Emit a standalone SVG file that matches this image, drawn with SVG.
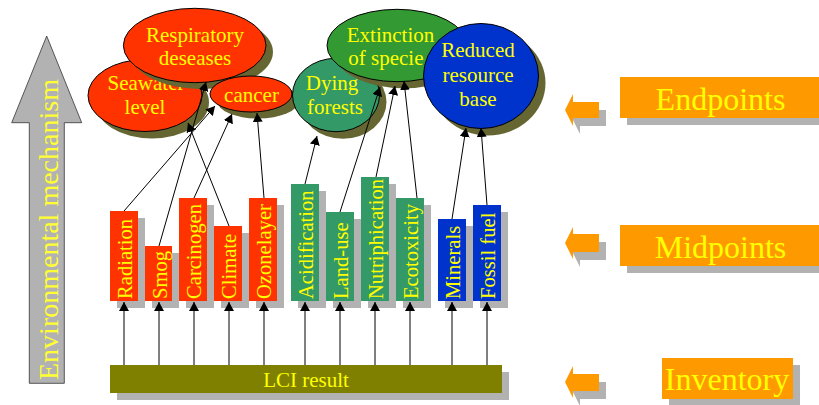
<svg xmlns="http://www.w3.org/2000/svg" width="819" height="405" viewBox="0 0 819 405" font-family="'Liberation Serif', 'Times New Roman', 'DejaVu Serif', serif">
<defs>
<style>
text{font-family:'Liberation Serif','Times New Roman','DejaVu Serif',serif;fill:#ffff00}
.t21{font-size:21px;text-anchor:middle}
.bt{font-size:20.6px}
.sh{fill:#b2b2b2}
.esh{fill:#666633}
.red{fill:#ff3300}
.grn{fill:#339966}
.grn2{fill:#339933}
.blu{fill:#0033cc}
.ell{stroke:#000;stroke-width:1}
.org{fill:#ff9900}
.lab{font-size:32px;text-anchor:middle}
.con{stroke:#000;stroke-width:1;fill:none;marker-end:url(#ah)}
</style>
<marker id="ah" markerUnits="userSpaceOnUse" viewBox="0 0 9 10" markerWidth="9" markerHeight="10" refX="9" refY="5" orient="auto">
<path d="M0,0 L9,5 L0,10 z" fill="#000"/>
</marker>
</defs>
<rect width="819" height="405" fill="#fff"/>

<g id="env-arrow">
<polygon points="46.7,36 81.7,122.7 64.3,122.7 64.3,383.3 29.3,383.3 29.3,122.7 11.7,122.7" fill="#b2b2b2" stroke="#333" stroke-width="0.8"/>
<text transform="translate(58,380) rotate(-90)" style="font-size:28px;fill:#ffff33">Environmental mechanism</text>
</g>

<g id="seawater">
<ellipse class="esh" cx="152" cy="102.5" rx="57" ry="36"/>
<ellipse class="red ell" cx="145" cy="95.5" rx="57" ry="36"/>
<text class="t21" x="146" y="90">Seawater</text>
<text class="t21" x="145" y="113.5">level</text>
</g>
<g id="respiratory">
<ellipse class="esh" cx="201.7" cy="52" rx="71.3" ry="37.2"/>
<ellipse class="red ell" cx="194.7" cy="45.5" rx="71.3" ry="37.2"/>
<text class="t21" x="195" y="41.5">Respiratory</text>
<text class="t21" x="195" y="65">deseases</text>
</g>
<g id="cancer">
<ellipse class="esh" cx="258" cy="100.5" rx="41" ry="18"/>
<ellipse class="red ell" cx="251" cy="94" rx="41" ry="18"/>
<text class="t21" x="251.5" y="102">cancer</text>
</g>
<g id="dying">
<ellipse class="esh" cx="343" cy="102" rx="43.5" ry="36.7"/>
<ellipse class="grn ell" cx="336" cy="95" rx="43.5" ry="36.7"/>
<text class="t21" x="332" y="90">Dying</text>
<text class="t21" x="335" y="113.5">forests</text>
</g>
<g id="extinction">
<ellipse class="esh" cx="404" cy="52" rx="70" ry="36.2"/>
<ellipse class="grn2 ell" cx="397" cy="45.5" rx="70" ry="36.2"/>
<text class="t21" x="390.5" y="41.7">Extinction</text>
<text x="348.3" y="65" style="font-size:21px">of specie</text>
</g>
<g id="reduced">
<ellipse class="esh" cx="488" cy="83" rx="57.5" ry="52.5"/>
<ellipse class="blu ell" cx="481" cy="76" rx="57.5" ry="52.5"/>
<text class="t21" x="478" y="57">Reduced</text>
<text class="t21" x="478" y="82">resource</text>
<text class="t21" x="478" y="106">base</text>
</g>

<g id="radiation">
<rect class="sh" x="117" y="218" width="28" height="90"/>
<rect class="red" x="110" y="211" width="28" height="90"/>
<text class="bt" transform="translate(132,299) rotate(-90)">Radiation</text>
</g>
<g id="smog">
<rect class="sh" x="152" y="253" width="27" height="55"/>
<rect class="red" x="145" y="246" width="27" height="55"/>
<text class="bt" transform="translate(167,299) rotate(-90)">Smog</text>
</g>
<g id="carcinogen">
<rect class="sh" x="186" y="205" width="28" height="103"/>
<rect class="red" x="179" y="198" width="28" height="103"/>
<text class="bt" transform="translate(201,299) rotate(-90)">Carcinogen</text>
</g>
<g id="climate">
<rect class="sh" x="221" y="233" width="28" height="75"/>
<rect class="red" x="214" y="226" width="28" height="75"/>
<text class="bt" transform="translate(236,299) rotate(-90)">Climate</text>
</g>
<g id="ozonelayer">
<rect class="sh" x="256" y="205" width="28" height="103"/>
<rect class="red" x="249" y="198" width="28" height="103"/>
<text class="bt" transform="translate(271,299) rotate(-90)">Ozonelayer</text>
</g>
<g id="acidification">
<rect class="sh" x="298" y="191" width="28" height="117"/>
<rect class="grn" x="291" y="184" width="28" height="117"/>
<text class="bt" transform="translate(313,299) rotate(-90)">Acidification</text>
</g>
<g id="landuse">
<rect class="sh" x="333" y="219" width="28" height="89"/>
<rect class="grn" x="326" y="212" width="28" height="89"/>
<text class="bt" transform="translate(348,299) rotate(-90)">Land-use</text>
</g>
<g id="nutriphication">
<rect class="sh" x="368" y="184" width="28" height="124"/>
<rect class="grn" x="361" y="177" width="28" height="124"/>
<text class="bt" transform="translate(383,299) rotate(-90)">Nutriphication</text>
</g>
<g id="ecotoxicity">
<rect class="sh" x="403" y="205" width="28" height="103"/>
<rect class="grn" x="396" y="198" width="28" height="103"/>
<text class="bt" transform="translate(418,299) rotate(-90)">Ecotoxicity</text>
</g>
<g id="minerals">
<rect class="sh" x="445" y="226" width="28" height="82"/>
<rect class="blu" x="438" y="219" width="28" height="82"/>
<text class="bt" transform="translate(460,299) rotate(-90)">Minerals</text>
</g>
<g id="fossilfuel">
<rect class="sh" x="480" y="212" width="28" height="96"/>
<rect class="blu" x="473" y="205" width="28" height="96"/>
<text class="bt" transform="translate(495,299) rotate(-90)">Fossil fuel</text>
</g>

<g id="lci">
<rect class="sh" x="117" y="372" width="392" height="28"/>
<rect x="110" y="365" width="392" height="28" fill="#808000"/>
<text x="306" y="386.5" style="font-size:21px;text-anchor:middle">LCI result</text>
</g>

<g id="endpoints">
<polygon class="sh" points="572,118 580,102 580,110 606,110 606,126 580,126 580,134"/>
<polygon class="org" points="565,110 573,94 573,102 599,102 599,118 573,118 573,126"/>
<rect class="sh" x="627" y="84" width="199" height="41"/>
<rect class="org" x="620" y="77" width="199" height="41"/>
<text class="lab" x="720.5" y="110">Endpoints</text>
</g>
<g id="midpoints">
<polygon class="sh" points="572,251 580,235 580,242 606,242 606,260 580,260 580,267"/>
<polygon class="org" points="565,243 573,227 573,234 599,234 599,252 573,252 573,259"/>
<rect class="sh" x="627" y="232" width="199" height="41"/>
<rect class="org" x="620" y="225" width="199" height="41"/>
<text class="lab" x="720.5" y="258">Midpoints</text>
</g>
<g id="inventory">
<polygon class="sh" points="572,390 580,374 580,382 606,382 606,399 580,399 580,406"/>
<polygon class="org" points="565,382 573,366 573,374 599,374 599,391 573,391 573,398"/>
<rect class="sh" x="669" y="365" width="131" height="41"/>
<rect class="org" x="662" y="358" width="131" height="41"/>
<text class="lab" x="727" y="390">Inventory</text>
</g>

<g id="connectors">
<line class="con" x1="124" y1="211" x2="215" y2="106"/>
<line class="con" x1="159" y1="246" x2="206" y2="82"/>
<line class="con" x1="194" y1="198" x2="232" y2="114"/>
<line class="con" x1="229" y1="226" x2="188" y2="123"/>
<line class="con" x1="264" y1="198" x2="257" y2="113"/>
<line class="con" x1="305" y1="184" x2="317" y2="136"/>
<line class="con" x1="340" y1="212" x2="380" y2="87"/>
<line class="con" x1="376" y1="177" x2="395" y2="86"/>
<line class="con" x1="417" y1="198" x2="404" y2="81"/>
<line class="con" x1="452" y1="219" x2="466" y2="128"/>
<line class="con" x1="487" y1="205" x2="481" y2="128"/>
<line class="con" x1="124" y1="365" x2="124" y2="302"/>
<line class="con" x1="159" y1="365" x2="159" y2="302"/>
<line class="con" x1="194" y1="365" x2="194" y2="302"/>
<line class="con" x1="229" y1="365" x2="229" y2="302"/>
<line class="con" x1="264" y1="365" x2="264" y2="302"/>
<line class="con" x1="305" y1="365" x2="305" y2="302"/>
<line class="con" x1="340" y1="365" x2="340" y2="302"/>
<line class="con" x1="375" y1="365" x2="375" y2="302"/>
<line class="con" x1="410" y1="365" x2="410" y2="302"/>
<line class="con" x1="452" y1="365" x2="452" y2="302"/>
<line class="con" x1="487" y1="365" x2="487" y2="302"/>
</g>
</svg>
